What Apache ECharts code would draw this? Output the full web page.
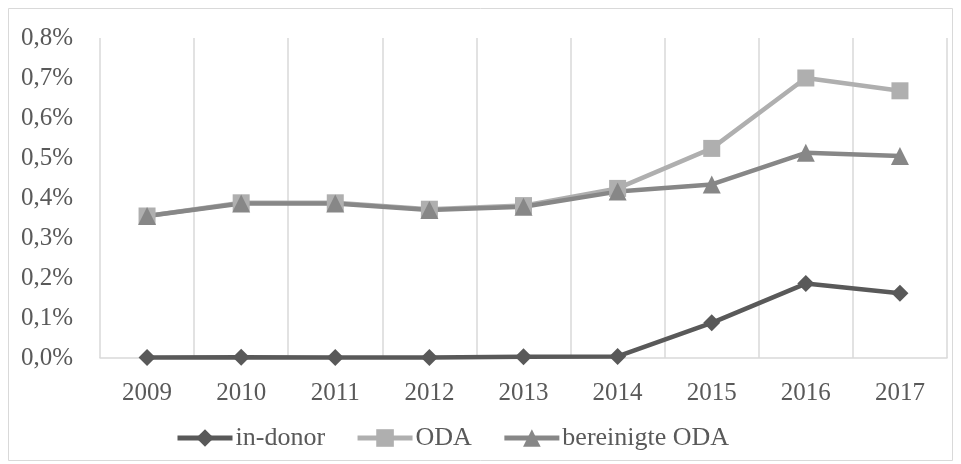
<!DOCTYPE html>
<html>
<head>
<meta charset="utf-8">
<script src="https://cdn.jsdelivr.net/npm/echarts@6/dist/echarts.min.js"></script>
<style>
html, body { margin: 0; padding: 0; background: #fff; }
#chart { width: 961px; height: 464px; }
</style>
</head>
<body>
<div id="chart"></div>
<script>
var years = ['2009', '2010', '2011', '2012', '2013', '2014', '2015', '2016', '2017'];
var inDonor = [0.001, 0.002, 0.001, 0.001, 0.003, 0.004, 0.088, 0.186, 0.162];
var oda = [0.355, 0.388, 0.388, 0.372, 0.381, 0.424, 0.524, 0.700, 0.668];
var bereinigt = [0.355, 0.386, 0.386, 0.370, 0.378, 0.416, 0.434, 0.513, 0.505];

var serifFont = '"Liberation Serif", "Times New Roman", serif';
var textColor = '#595959';

var chart = echarts.init(document.getElementById('chart'));

// one line series, markers like the Excel original
function lineSeries(name, data, color, symbol, size) {
	return {
		name: name,
		type: 'line',
		data: data,
		symbol: symbol,
		symbolSize: size,
		lineStyle: { color: color, width: 4.5 },
		itemStyle: { color: color },
		animation: false
	};
}

chart.setOption({
	backgroundColor: '#fff',
	textStyle: { fontFamily: serifFont },
	graphic: [{
		type: 'rect',
		shape: { x: 8.5, y: 8.5, width: 944, height: 452 },
		style: { fill: 'none', stroke: '#d9d9d9', lineWidth: 1 },
		silent: true
	}],
	grid: { left: 100, right: 14, top: 38, bottom: 106 },
	legend: {
		bottom: 8,
		left: 170,
		itemWidth: 55,
		itemHeight: 22,
		itemGap: 30,
		lineStyle: { width: 5 },
		textStyle: { fontFamily: serifFont, fontSize: 26, color: textColor, padding: [0, 0, 0, -2] },
		data: ['in-donor', 'ODA', 'bereinigte ODA']
	},
	xAxis: {
		type: 'category',
		data: years,
		boundaryGap: true,
		axisLine: { lineStyle: { color: '#d9d9d9', width: 1.5 } },
		axisTick: { show: false },
		splitLine: { show: true, lineStyle: { color: '#d9d9d9', width: 1.5 } },
		axisLabel: { fontFamily: serifFont, fontSize: 25, color: textColor, margin: 23 }
	},
	yAxis: {
		type: 'value',
		min: 0,
		max: 0.8,
		interval: 0.1,
		axisLine: { show: false },
		axisTick: { show: false },
		splitLine: { show: false },
		axisLabel: {
			fontFamily: serifFont, fontSize: 25, color: textColor, margin: 27,
			formatter: function (v) { return v.toFixed(1).replace('.', ',') + '%'; }
		}
	},
	series: [
		lineSeries('in-donor', inDonor, '#595959', 'diamond', 17),
		lineSeries('ODA', oda, '#afafaf', 'rect', 17),
		lineSeries('bereinigte ODA', bereinigt, '#878787', 'triangle', 18)
	]
});
</script>
</body>
</html>
